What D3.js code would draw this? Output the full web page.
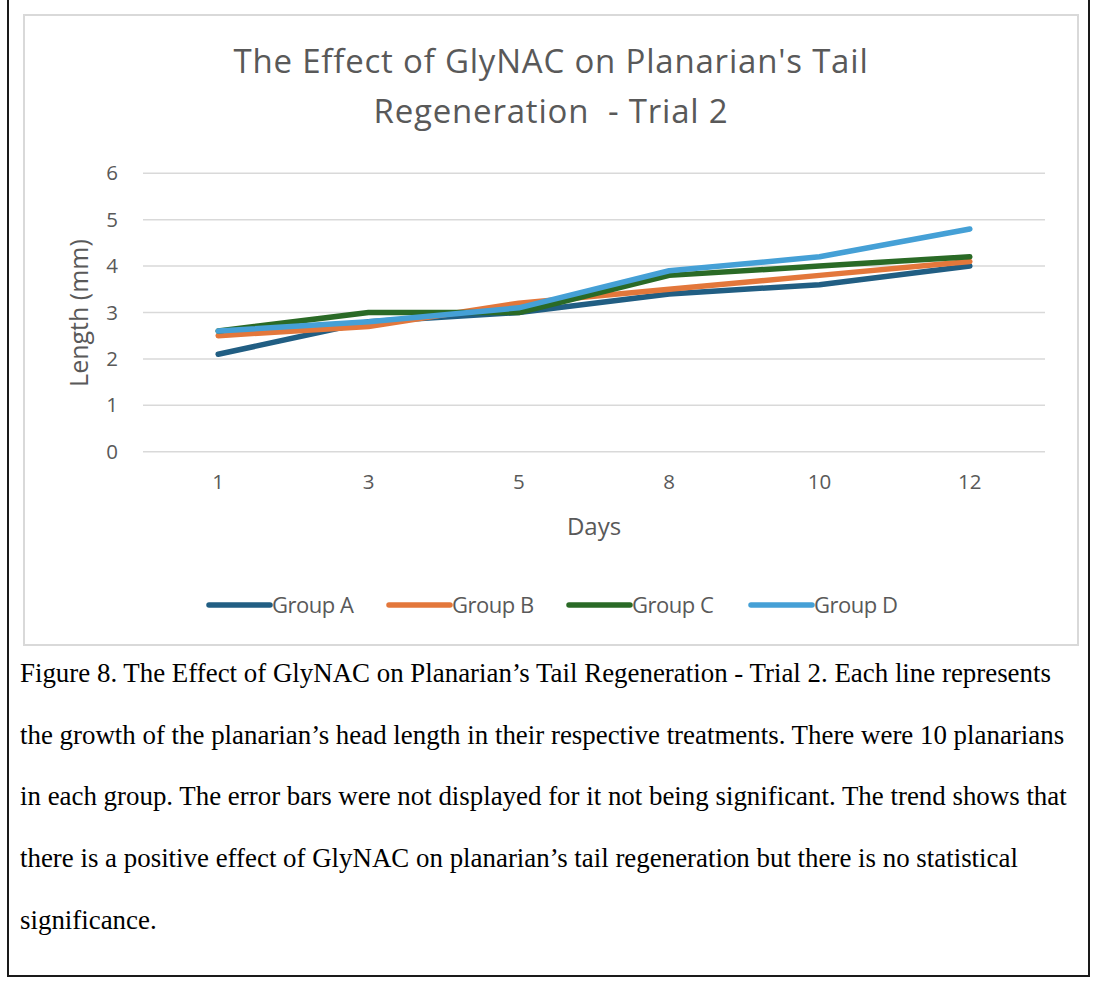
<!DOCTYPE html>
<html>
<head>
<meta charset="utf-8">
<script src="https://cdn.jsdelivr.net/npm/d3@7"></script>
<style>
  body { margin: 0; background: #fff; }
  svg { display: block; }
</style>
</head>
<body>
<svg id="chart" width="1100" height="985"></svg>
<script>
var days = ["1", "3", "5", "8", "10", "12"];
var groupA = [2.1, 2.8, 3.0, 3.4, 3.6, 4.0];
var groupB = [2.5, 2.7, 3.2, 3.5, 3.8, 4.1];
var groupC = [2.6, 3.0, 3.0, 3.8, 4.0, 4.2];
var groupD = [2.6, 2.8, 3.1, 3.9, 4.2, 4.8];
var groupNames = ["Group A", "Group B", "Group C", "Group D"];
var yTicks = [0, 1, 2, 3, 4, 5, 6];
var captionLines = [
  "Figure 8. The Effect of GlyNAC on Planarian\u2019s Tail Regeneration - Trial 2. Each line represents",
  "the growth of the planarian\u2019s head length in their respective treatments. There were 10 planarians",
  "in each group. The error bars were not displayed for it not being significant. The trend shows that",
  "there is a positive effect of GlyNAC on planarian\u2019s tail regeneration but there is no statistical",
  "significance."
];

var series = [groupA, groupB, groupC, groupD];
var colors = ["#215e83", "#e3773b", "#2a6a26", "#45a0d6"];
var gray = "#595959";
var font = "'Open Sans', 'Noto Sans', sans-serif";

var svg = d3.select("#chart");

// outer black box and the light chart border
svg.append("rect").attr("x", 8).attr("y", -5).attr("width", 1081).attr("height", 981)
  .attr("fill", "none").attr("stroke", "#1a1a1a").attr("stroke-width", 2);
svg.append("rect").attr("x", 24).attr("y", 15).attr("width", 1054).attr("height", 630)
  .attr("fill", "#fff").attr("stroke", "#d9d9d9").attr("stroke-width", 2);

var x = d3.scaleBand().domain(days).range([143, 1045]);
var y = d3.scaleLinear().domain([0, 6]).range([451.7, 173.3]);

// gridlines
svg.append("g").selectAll("line").data(yTicks).enter().append("line")
  .attr("x1", 143).attr("x2", 1045)
  .attr("y1", function(d){ return y(d); }).attr("y2", function(d){ return y(d); })
  .attr("stroke", "#d9d9d9").attr("stroke-width", 1.5);

// axes without domain lines or ticks, Excel style
var yAxis = svg.append("g").attr("transform", "translate(122,0)")
  .call(d3.axisLeft(y).tickValues(yTicks).tickFormat(d3.format("d")).tickSize(0).tickPadding(0));
var xAxis = svg.append("g").attr("transform", "translate(0,474)")
  .call(d3.axisBottom(x).tickSize(0).tickPadding(0));
[yAxis, xAxis].forEach(function(ax){
  ax.select(".domain").remove();
  ax.selectAll("text").attr("fill", gray).style("font-family", font).style("font-size", "20.5px");
});
yAxis.selectAll("text").attr("text-anchor", "middle").attr("dx", "-10px");
xAxis.selectAll("text").attr("dy", "0.71em");

// lines
var line = d3.line()
  .x(function(d, i){ return x(days[i]) + x.bandwidth() / 2; })
  .y(function(d){ return y(d); });
svg.append("g").selectAll("path").data(series).enter().append("path")
  .attr("d", line)
  .attr("fill", "none")
  .attr("stroke", function(d, i){ return colors[i]; })
  .attr("stroke-width", 5.5)
  .attr("stroke-linecap", "round")
  .attr("stroke-linejoin", "round");

// title
var title = svg.append("text").attr("text-anchor", "middle").attr("fill", gray)
  .style("font-family", font).style("font-size", "33px").style("letter-spacing", "0.8px")
  .style("white-space", "pre");
title.append("tspan").attr("x", 551).attr("y", 73).text("The Effect of GlyNAC on Planarian's Tail");
title.append("tspan").attr("x", 551).attr("y", 123).text("Regeneration  - Trial 2");

// axis titles
svg.append("text").attr("x", 594).attr("y", 535).attr("text-anchor", "middle")
  .attr("fill", gray).style("font-family", font).style("font-size", "24px").text("Days");
svg.append("text").attr("transform", "translate(88,313) rotate(-90)").attr("text-anchor", "middle")
  .attr("fill", gray).style("font-family", font).style("font-size", "25px").text("Length (mm)");

// legend
var legendX = [209, 389, 569, 751];
var leg = svg.append("g").selectAll("g").data(groupNames).enter().append("g")
  .attr("transform", function(d, i){ return "translate(" + legendX[i] + ",605)"; });
leg.append("line").attr("x1", 0).attr("x2", 61).attr("y1", 0).attr("y2", 0)
  .attr("stroke", function(d, i){ return colors[i]; })
  .attr("stroke-width", 5.5).attr("stroke-linecap", "round");
leg.append("text").attr("x", 63).attr("y", 7.5).attr("fill", gray)
  .style("font-family", font).style("font-size", "22px").style("letter-spacing", "-0.5px")
  .text(function(d){ return d; });

// caption below the chart
svg.append("g").selectAll("text").data(captionLines).enter().append("text")
  .attr("x", 20).attr("y", function(d, i){ return 682 + i * 61.7; })
  .attr("fill", "#000").style("font-family", "'Liberation Serif', 'Times New Roman', serif")
  .style("font-size", "26.9px")
  .text(function(d){ return d; });
</script>
</body>
</html>
